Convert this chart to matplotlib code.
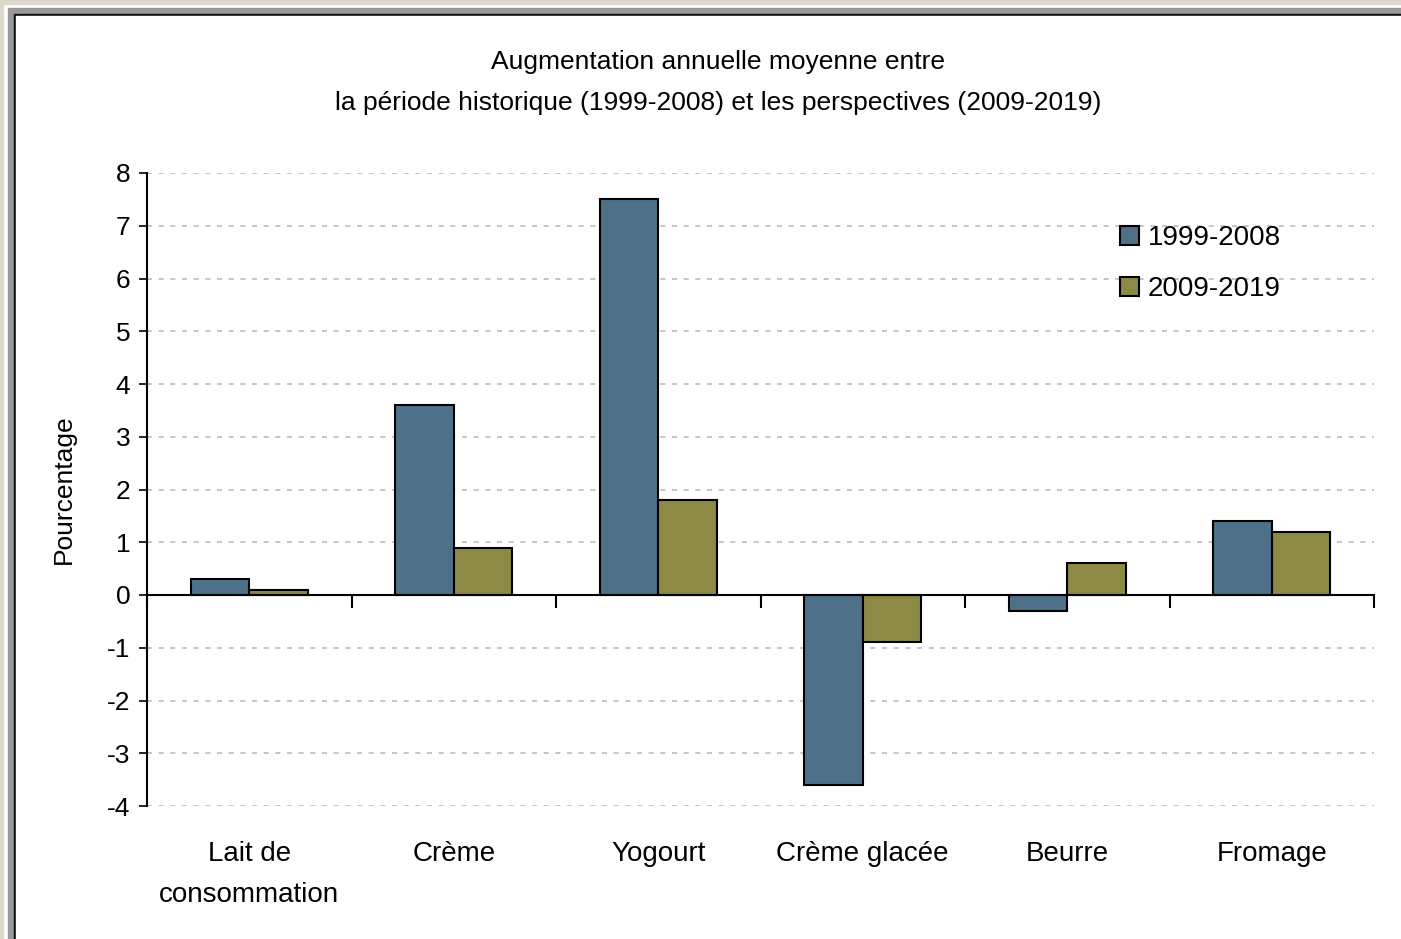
import numpy as np
import matplotlib
matplotlib.use('Agg')
import matplotlib.pyplot as plt
from matplotlib.patches import Rectangle

plt.rcParams['font.family'] = ['Liberation Sans', 'DejaVu Sans']
plt.rcParams['axes.unicode_minus'] = False

# données
categories = ['Lait de\nconsommation', 'Crème', 'Yogourt', 'Crème glacée', 'Beurre', 'Fromage']
serie_1999_2008 = [0.3, 3.6, 7.5, -3.6, -0.3, 1.4]
serie_2009_2019 = [0.1, 0.9, 1.8, -0.9, 0.6, 1.2]
series_labels = ['1999-2008', '2009-2019']
colors = ['#4e7189', '#8c8a45']

W, H = 1401, 939
fig = plt.figure(figsize=(W / 100, H / 100), dpi=100)
fig.patch.set_facecolor('white')

# cadre autour du graphique
def px_rect(x0, y0, x1, y1, color):
    fig.patches.append(Rectangle((x0 / W, 1 - y1 / H), (x1 - x0) / W, (y1 - y0) / H,
                                 transform=fig.transFigure, color=color, zorder=-10))

px_rect(0, 0, W, 4, '#dcd8cc')
px_rect(0, 0, 3, H, '#dcd8cc')
px_rect(8, 8, W, H, '#999999')
px_rect(14, 14, W, H, '#111111')
px_rect(16, 16, W, H, 'white')

ax = fig.add_axes([147 / W, 1 - 806 / H, (1374 - 147) / W, (806 - 173) / H])
ax.set_facecolor('none')

x = np.arange(len(categories))
bw = 0.285
ax.bar(x - bw / 2, serie_1999_2008, width=bw, color=colors[0], edgecolor='black',
       linewidth=1.5, label=series_labels[0], zorder=3)
ax.bar(x + bw / 2, serie_2009_2019, width=bw, color=colors[1], edgecolor='black',
       linewidth=1.5, label=series_labels[1], zorder=3)

ax.set_xlim(-0.5, len(categories) - 0.5)
ax.set_ylim(-4, 8)
ax.set_yticks(range(-4, 9))
ax.tick_params(axis='y', labelsize=19, length=6, width=1.2, direction='out', pad=6)

# grille pointillée
for v in range(-4, 9):
    if v != 0:
        ax.axhline(v, color='#bbbbbb', linestyle=(0, (3, 4)), linewidth=1.2, zorder=1)

for s in ['top', 'right']:
    ax.spines[s].set_visible(False)
ax.spines['left'].set_linewidth(1.5)
ax.spines['bottom'].set_position(('data', 0))
ax.spines['bottom'].set_linewidth(1.5)
ax.spines['bottom'].set_zorder(4)

ax.set_xticks(np.arange(-0.5, len(categories), 1.0))
ax.set_xticklabels([])
ax.tick_params(axis='x', length=9, width=1.5, direction='out')

for i, c in enumerate(categories):
    ax.text(i, -4.66, c, ha='center', va='top', fontsize=20, linespacing=1.75)

ax.set_ylabel('Pourcentage', fontsize=19, labelpad=22)

fig.text(718 / W, 1 - 62 / H, 'Augmentation annuelle moyenne entre', ha='center', va='center', fontsize=19)
fig.text(718 / W, 1 - 103 / H, 'la période historique (1999-2008) et les perspectives (2009-2019)',
         ha='center', va='center', fontsize=19)

leg = ax.legend(loc='upper left', bbox_to_anchor=(0.773, 0.957), frameon=False, fontsize=20,
                handlelength=0.65, handleheight=0.65, handletextpad=0.33, labelspacing=0.9)
for p in leg.get_patches():
    p.set_linewidth(1.5)

fig.savefig('out.png', dpi=100)
